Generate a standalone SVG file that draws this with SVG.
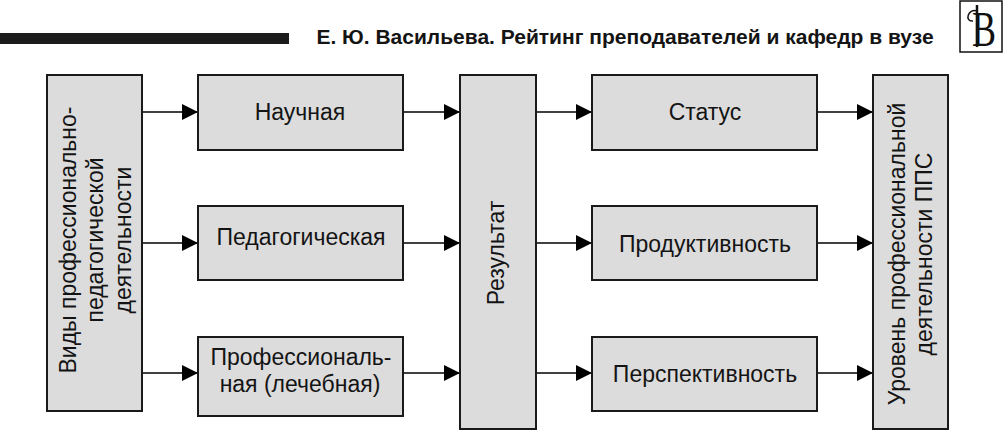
<svg xmlns="http://www.w3.org/2000/svg" width="1004" height="431" viewBox="0 0 1004 431">
<defs>
<marker id="arr" markerUnits="userSpaceOnUse" markerWidth="16" markerHeight="16" refX="16" refY="8" orient="auto"><path d="M0 0L16 8L0 16Z" fill="#000"/></marker>
</defs>
<style>
text{font-family:"Liberation Sans",Arial,sans-serif;fill:#141414;font-size:23px;text-anchor:middle}
.b{fill:#dcdcdc;stroke:#1a1a1a;stroke-width:2}
.c{stroke:#000;stroke-width:1.6;fill:none;marker-end:url(#arr)}
</style>
<rect width="1004" height="431" fill="#fff"/>
<g id="header">
<rect x="0" y="33" width="289" height="11" fill="#1c1c1c"/>
<text x="625" y="44" style="font-size:21px;font-weight:bold">Е. Ю. Васильева. Рейтинг преподавателей и кафедр в вузе</text>
<g id="logo">
<rect x="960" y="1" width="42" height="51" fill="#fff" stroke="#111" stroke-width="1.5"/>
<text transform="translate(984 46) scale(.72 1)" style="font-family:'Liberation Serif',serif;font-size:50px;fill:#111">В</text>
<path d="M977 5V47" stroke="#111" stroke-width="2.5" fill="none"/>
<path d="M977 11C968 8 964 22 973 21" fill="none" stroke="#111" stroke-width="1.5"/>
</g>
</g>
<g id="connectors">
<path class="c" d="M142 112H198"/>
<path class="c" d="M142 243H198"/>
<path class="c" d="M142 373H198"/>
<path class="c" d="M403 112H460"/>
<path class="c" d="M403 243H460"/>
<path class="c" d="M403 373H460"/>
<path class="c" d="M536 112H592"/>
<path class="c" d="M536 243H592"/>
<path class="c" d="M536 373H592"/>
<path class="c" d="M817 112H873"/>
<path class="c" d="M817 243H873"/>
<path class="c" d="M817 373H873"/>
</g>
<g id="n-vidy"><rect class="b" x="47" y="75" width="95" height="336"/>
<text transform="translate(76 240) rotate(-90)">Виды профессионально-</text>
<text transform="translate(103 240) rotate(-90)">педагогической</text>
<text transform="translate(131 240) rotate(-90)">деятельности</text></g>
<g id="n-nauch"><rect class="b" x="198" y="75" width="205" height="75"/><text x="300" y="120">Научная</text></g>
<g id="n-ped"><rect class="b" x="198" y="206" width="205" height="74"/><text x="301" y="245">Педагогическая</text></g>
<g id="n-prof"><rect class="b" x="198" y="337" width="205" height="79"/><text x="301" y="365">Профессиональ-</text><text x="300" y="392">ная (лечебная)</text></g>
<g id="n-rez"><rect class="b" x="460" y="75" width="76" height="354"/><text transform="translate(504 253) rotate(-90)">Результат</text></g>
<g id="n-status"><rect class="b" x="592" y="75" width="225" height="75"/><text x="705" y="120">Статус</text></g>
<g id="n-prod"><rect class="b" x="592" y="206" width="225" height="74"/><text x="705" y="252">Продуктивность</text></g>
<g id="n-persp"><rect class="b" x="592" y="337" width="225" height="74"/><text x="705" y="382">Перспективность</text></g>
<g id="n-uroven"><rect class="b" x="873" y="75" width="75" height="354"/>
<text transform="translate(905 254) rotate(-90)">Уровень профессиональной</text>
<text transform="translate(932 254) rotate(-90)">деятельности ППС</text></g>
</svg>
